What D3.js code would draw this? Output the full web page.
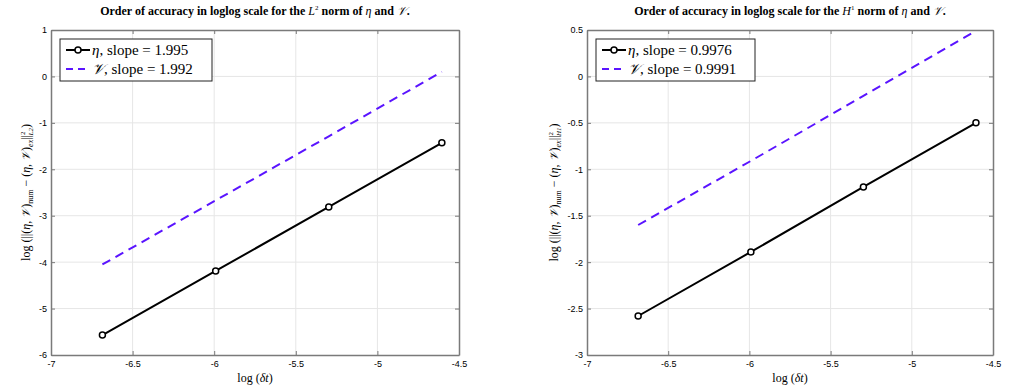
<!DOCTYPE html>
<html>
<meta charset="utf-8">
<style>
body { margin: 0; background: #fff; }
.tick text { font: 9px "Liberation Sans", sans-serif; fill: #000; }
.grid line { stroke: #e6e6e6; }
.serif { font-family: "Liberation Serif", "DejaVu Serif", serif; }
</style>
<body>
<script src="https://d3js.org/d3.v7.min.js"></script>
<script>
// log(dt) of the four runs
var logDt = [-6.685, -5.991, -5.298, -4.605];

// L2 norm errors (left panel)
var etaL2 = [-5.57, -4.19, -2.81, -1.43];
var vL2 = [-4.05, -2.67, -1.29, 0.10];

// H1 norm errors (right panel)
var etaH1 = [-2.58, -1.89, -1.19, -0.50];
var vH1 = [-1.60, -0.91, -0.21, 0.49];

var xTicks = [-7, -6.5, -6, -5.5, -5, -4.5];
var yTicksL2 = [-6, -5, -4, -3, -2, -1, 0, 1];
var yTicksH1 = [-3, -2.5, -2, -1.5, -1, -0.5, 0, 0.5];

var legendL2 = ["1.995", "1.992"];
var legendH1 = ["0.9976", "0.9991"];

var svg = d3.select("body").append("svg")
    .attr("width", 1021)
    .attr("height", 390);

function panel(left, right, yDomain, yTicks, eta, vv, slopes, norm, normSup, labelOff) {
  var top = 30, bottom = 355;
  var x = d3.scaleLinear().domain([-7, -4.5]).range([left, right]);
  var y = d3.scaleLinear().domain(yDomain).range([bottom, top]);
  var g = svg.append("g");

  // grid
  var grid = g.append("g").attr("class", "grid");
  grid.selectAll(".gx").data(xTicks.slice(1, -1)).enter().append("line")
      .attr("x1", function(d) { return x(d); }).attr("x2", function(d) { return x(d); })
      .attr("y1", top).attr("y2", bottom);
  grid.selectAll(".gy").data(yTicks.slice(1, -1)).enter().append("line")
      .attr("y1", function(d) { return y(d); }).attr("y2", function(d) { return y(d); })
      .attr("x1", left).attr("x2", right);

  // axes
  var fmt = function(d) { return String(d); };
  var xa = g.append("g").attr("transform", "translate(0," + bottom + ")")
      .call(d3.axisBottom(x).tickValues(xTicks).tickFormat(fmt).tickSizeInner(-4).tickSizeOuter(0).tickPadding(4));
  var xt = g.append("g").attr("transform", "translate(0," + top + ")")
      .call(d3.axisTop(x).tickValues(xTicks).tickFormat("").tickSizeInner(-4).tickSizeOuter(0));
  var ya = g.append("g").attr("transform", "translate(" + left + ",0)")
      .call(d3.axisLeft(y).tickValues(yTicks).tickFormat(fmt).tickSizeInner(-4).tickSizeOuter(0).tickPadding(4));
  var yr = g.append("g").attr("transform", "translate(" + right + ",0)")
      .call(d3.axisRight(y).tickValues(yTicks).tickFormat("").tickSizeInner(-4).tickSizeOuter(0));
  [xa, xt, ya, yr].forEach(function(a) {
    a.select(".domain").attr("stroke", "#7a7a7a").attr("stroke-width", 1.5);
    a.selectAll(".tick line").attr("stroke", "#7a7a7a");
  });
  xa.selectAll(".tick text").attr("dy", "0.9em");

  // lines
  var line = d3.line()
      .x(function(d, i) { return x(logDt[i]); })
      .y(function(d) { return y(d); });
  g.append("path").datum(vv)
      .attr("fill", "none").attr("stroke", "#5a14ff").attr("stroke-width", 2)
      .attr("stroke-dasharray", "9,6").attr("d", line);
  g.append("path").datum(eta)
      .attr("fill", "none").attr("stroke", "#000").attr("stroke-width", 2).attr("d", line);
  g.selectAll(".pt").data(eta).enter().append("circle")
      .attr("cx", function(d, i) { return x(logDt[i]); })
      .attr("cy", function(d) { return y(d); })
      .attr("r", 3).attr("fill", "#fff").attr("stroke", "#000").attr("stroke-width", 1.5);

  // title
  var cx = (left + right) / 2;
  var t = g.append("text").attr("class", "serif").attr("x", cx).attr("y", 15)
      .attr("text-anchor", "middle").style("font-size", "12px").style("font-weight", "bold");
  t.append("tspan").text("Order of accuracy in loglog scale for the ");
  t.append("tspan").style("font-style", "italic").style("font-weight", "normal").text(norm);
  t.append("tspan").attr("dy", -5).style("font-size", "7px").style("font-weight", "normal").text(normSup);
  t.append("tspan").attr("dy", 5).text(" norm of ");
  t.append("tspan").style("font-style", "italic").style("font-weight", "normal").text("η");
  t.append("tspan").text(" and ");
  t.append("tspan").style("font-style", "italic").style("font-weight", "normal").text("𝒱");
  t.append("tspan").text(".");

  // x label
  var xl = g.append("text").attr("class", "serif").attr("x", cx).attr("y", 382)
      .attr("text-anchor", "middle").style("font-size", "12px");
  xl.append("tspan").text("log (");
  xl.append("tspan").style("font-style", "italic").text("δt");
  xl.append("tspan").text(")");

  // y label
  var yl = g.append("text").attr("class", "serif")
      .attr("transform", "translate(" + (left - labelOff) + "," + ((top + bottom) / 2) + ") rotate(-90)")
      .attr("text-anchor", "middle").style("font-size", "12px");
  yl.append("tspan").text("log (||(");
  yl.append("tspan").style("font-style", "italic").text("η");
  yl.append("tspan").text(", ");
  yl.append("tspan").style("font-style", "italic").text("𝒱");
  yl.append("tspan").text(")");
  yl.append("tspan").attr("dy", 3).style("font-size", "8px").text("num");
  yl.append("tspan").attr("dy", -3).text(" − (");
  yl.append("tspan").style("font-style", "italic").text("η");
  yl.append("tspan").text(", ");
  yl.append("tspan").style("font-style", "italic").text("𝒱");
  yl.append("tspan").text(")");
  yl.append("tspan").attr("dy", 3).style("font-size", "8px").style("font-style", "italic").text("ex");
  yl.append("tspan").attr("dy", -3).text("||");
  yl.append("tspan").attr("dy", -5).style("font-size", "7px").text("2");
  yl.append("tspan").attr("dx", -4).attr("dy", 8).style("font-size", "7px").style("font-style", "italic").text(norm + normSup);
  yl.append("tspan").attr("dy", -3).text(")");

  // legend
  var lx = left + 9, ly = 39;
  var lw = norm === "L" ? 152 : 159;
  var lg = g.append("g");
  lg.append("rect").attr("x", lx).attr("y", ly).attr("width", lw).attr("height", 42)
      .attr("fill", "#fff").attr("stroke", "#222").attr("stroke-width", 1);
  lg.append("line").attr("x1", lx + 6).attr("x2", lx + 30).attr("y1", ly + 11).attr("y2", ly + 11)
      .attr("stroke", "#000").attr("stroke-width", 2);
  lg.append("circle").attr("cx", lx + 18).attr("cy", ly + 11).attr("r", 3)
      .attr("fill", "#fff").attr("stroke", "#000").attr("stroke-width", 1.5);
  lg.append("line").attr("x1", lx + 6).attr("x2", lx + 30).attr("y1", ly + 30).attr("y2", ly + 30)
      .attr("stroke", "#5a14ff").attr("stroke-width", 2).attr("stroke-dasharray", "7,5");
  var names = ["η", "𝒱"];
  names.forEach(function(n, i) {
    var tx = lg.append("text").attr("class", "serif").attr("x", lx + 32).attr("y", ly + 16 + i * 19)
        .style("font-size", "15px");
    tx.append("tspan").style("font-style", "italic").text(n);
    tx.append("tspan").text(", slope = " + slopes[i]);
  });
}

panel(51, 459, [-6, 1], yTicksL2, etaL2, vL2, legendL2, "L", "2", 21);
panel(587, 993, [-3, 0.5], yTicksH1, etaH1, vH1, legendH1, "H", "1", 29);
</script>
</body>
</html>
